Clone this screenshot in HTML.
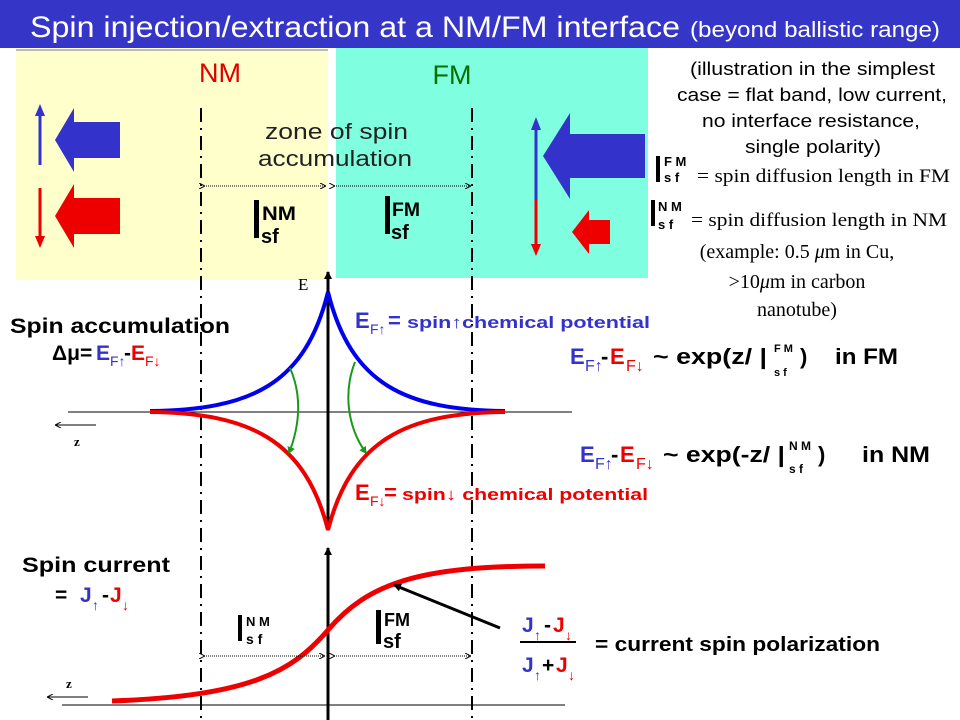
<!DOCTYPE html>
<html><head><meta charset="utf-8"><style>
body{margin:0;width:960px;height:720px;overflow:hidden;background:#fff}
svg{display:block}
.s{font-family:"Liberation Sans",sans-serif}
.r{font-family:"Liberation Serif",serif}
.b{font-family:"Liberation Sans",sans-serif;font-weight:bold}
</style></head><body>
<svg width="960" height="720" viewBox="0 0 960 720" xmlns="http://www.w3.org/2000/svg">
<defs>
<marker id="ah" markerWidth="8" markerHeight="8" refX="7" refY="4" orient="auto" markerUnits="userSpaceOnUse"><path d="M0,0 L8,4 L0,8 z" fill="#000"/></marker>
<marker id="sm" markerWidth="6" markerHeight="6" refX="5" refY="3" orient="auto" markerUnits="userSpaceOnUse"><path d="M0,0 L6,3 L0,6" fill="none" stroke="#000" stroke-width="1"/></marker>
<marker id="gh" markerWidth="8" markerHeight="8" refX="6" refY="4" orient="auto" markerUnits="userSpaceOnUse"><path d="M0,0 L7,4 L0,8 z" fill="#1a9a1a"/></marker>
</defs>
<rect x="0" y="0" width="960" height="48" fill="#3535c8"/>
<text x="30" y="37" class="s" font-size="30" fill="#fff" textLength="650" lengthAdjust="spacingAndGlyphs">Spin injection/extraction at a NM/FM interface</text>
<text x="690" y="37" class="s" font-size="22" fill="#fff" textLength="250" lengthAdjust="spacingAndGlyphs">(beyond ballistic range)</text>
<rect x="16" y="50" width="312" height="230" fill="#ffffcc"/>
<line x1="16" y1="50" x2="328" y2="50" stroke="#bbb" stroke-width="2"/>
<rect x="336" y="48" width="312" height="230" fill="#80ffe0"/>
<text x="220" y="82" text-anchor="middle" class="s" font-size="27" fill="#e00000">NM</text>
<text x="452" y="84" text-anchor="middle" class="s" font-size="27" fill="#007000">FM</text>
<line x1="40" y1="165" x2="40" y2="112" stroke="#3333cc" stroke-width="3"/><path d="M35,116 L40,104 L45,116z" fill="#3333cc"/>
<path d="M120,122 L74,122 L74,108 L55,140 L74,172 L74,158 L120,158z" fill="#3333cc"/>
<line x1="40" y1="188" x2="40" y2="240" stroke="#e00" stroke-width="3"/><path d="M35,236 L40,248 L45,236z" fill="#e00"/>
<path d="M120,198 L74,198 L74,184 L55,216 L74,248 L74,234 L120,234z" fill="#e00"/>
<line x1="536" y1="200" x2="536" y2="125" stroke="#3333cc" stroke-width="3"/><path d="M531,130 L536,117 L541,130z" fill="#3333cc"/>
<path d="M645,134 L570,134 L570,113 L543,156 L570,199 L570,178 L645,178z" fill="#3333cc"/>
<line x1="536" y1="200" x2="536" y2="250" stroke="#e00" stroke-width="3"/><path d="M531,244 L536,256 L541,244z" fill="#e00"/>
<path d="M610,220 L589,220 L589,210 L572,232 L589,254 L589,244 L610,244z" fill="#e00"/>
<text x="265" y="139" class="s" font-size="22" fill="#222" textLength="143" lengthAdjust="spacingAndGlyphs">zone of spin</text>
<text x="258" y="166" class="s" font-size="22" fill="#222" textLength="154" lengthAdjust="spacingAndGlyphs">accumulation</text>
<line x1="201" y1="108" x2="201" y2="720" stroke="#000" stroke-width="2" stroke-dasharray="14,6,2,6"/>
<line x1="472" y1="108" x2="472" y2="720" stroke="#000" stroke-width="2" stroke-dasharray="14,6,2,6"/>
<line x1="204" y1="186" x2="325" y2="186" stroke="#000" stroke-width="1" stroke-dasharray="1,1" marker-end="url(#sm)" marker-start="url(#sm)"/>
<line x1="334" y1="186" x2="470" y2="186" stroke="#000" stroke-width="1" stroke-dasharray="1,1" marker-end="url(#sm)" marker-start="url(#sm)"/>
<rect x="254" y="200" width="5" height="38" fill="#000"/>
<text x="262" y="220" class="b" font-size="19" textLength="34" lengthAdjust="spacingAndGlyphs">NM</text>
<text x="261" y="243" class="b" font-size="20">sf</text>
<rect x="385" y="196" width="5" height="38" fill="#000"/>
<text x="392" y="216" class="b" font-size="19" textLength="28" lengthAdjust="spacingAndGlyphs">FM</text>
<text x="391" y="239" class="b" font-size="20">sf</text>
<g class="s" font-size="18" fill="#000">
<text x="690" y="75" textLength="245" lengthAdjust="spacingAndGlyphs">(illustration in the simplest</text>
<text x="677" y="101" textLength="270" lengthAdjust="spacingAndGlyphs">case = flat band, low current,</text>
<text x="702" y="127" textLength="218" lengthAdjust="spacingAndGlyphs">no interface resistance,</text>
<text x="745" y="153" textLength="136" lengthAdjust="spacingAndGlyphs">single polarity)</text>
</g>
<rect x="656" y="156" width="4" height="26" fill="#000"/>
<text x="664" y="166" class="b" font-size="13">F M</text><text x="664" y="182" class="b" font-size="13">s f</text>
<text x="697" y="182" class="r" font-size="19" textLength="253" lengthAdjust="spacingAndGlyphs">= spin diffusion length in FM</text>
<rect x="651" y="200" width="4" height="26" fill="#000"/>
<text x="658" y="211" class="b" font-size="13">N M</text><text x="658" y="229" class="b" font-size="13">s f</text>
<text x="691" y="226" class="r" font-size="19" textLength="256" lengthAdjust="spacingAndGlyphs">= spin diffusion length in NM</text>
<g class="r" font-size="20" text-anchor="middle"><text x="797" y="258">(example: 0.5 <tspan font-style="italic">μ</tspan>m in Cu,</text><text x="797" y="288">&gt;10<tspan font-style="italic">μ</tspan>m in carbon</text><text x="797" y="316">nanotube)</text></g>
<line x1="328" y1="530" x2="328" y2="272" stroke="#000" stroke-width="3" marker-end="url(#ah)"/>
<text x="298" y="290" class="r" font-size="17">E</text>
<line x1="68" y1="412" x2="572" y2="412" stroke="#000" stroke-width="1"/>
<line x1="96" y1="425" x2="56" y2="425" stroke="#000" stroke-width="1" marker-end="url(#sm)"/>
<text x="74" y="446" class="r" font-size="13" font-weight="bold">z</text>
<path d="M150,411 C250,410 305,385 328,292 C351,385 406,410 505,411" fill="none" stroke="#0000ee" stroke-width="4"/>
<path d="M150,412 C250,413 305,440 328,530 C351,440 406,413 505,412" fill="none" stroke="#ee0000" stroke-width="4"/>
<path d="M290,368 C302,395 300,425 289,453" fill="none" stroke="#1a9a1a" stroke-width="2" marker-end="url(#gh)"/>
<path d="M355,362 C344,390 346,425 366,453" fill="none" stroke="#1a9a1a" stroke-width="2" marker-end="url(#gh)"/>
<text x="10" y="333" class="b" font-size="21" textLength="220" lengthAdjust="spacingAndGlyphs">Spin accumulation</text>
<text x="52" y="360" class="b" font-size="21">Δμ=</text>
<text x="96" y="360" class="b" font-size="21" fill="#3333cc">E</text><text x="110" y="366" class="s" font-size="14" fill="#3333cc">F↑</text>
<text x="124" y="360" class="b" font-size="21">-</text>
<text x="131" y="360" class="b" font-size="21" fill="#e00">E</text><text x="145" y="366" class="s" font-size="14" fill="#e00">F↓</text>
<text x="355" y="328" class="b" font-size="22" fill="#3333cc">E</text><text x="370" y="334" class="s" font-size="14" fill="#3333cc">F↑</text>
<text x="388" y="328" class="b" font-size="22" fill="#3333cc">=</text>
<text x="407" y="328" class="b" font-size="17" fill="#3333cc" textLength="243" lengthAdjust="spacingAndGlyphs">spin↑chemical potential</text>
<text x="355" y="500" class="b" font-size="22" fill="#e00">E</text><text x="370" y="506" class="s" font-size="14" fill="#e00">F↓</text>
<text x="384" y="500" class="b" font-size="22" fill="#e00">=</text>
<text x="402" y="500" class="b" font-size="17" fill="#e00" textLength="246" lengthAdjust="spacingAndGlyphs">spin↓ chemical potential</text>
<text x="570" y="364" class="b" font-size="22" fill="#3333cc">E</text><text x="585" y="371" class="s" font-size="16" fill="#3333cc">F↑</text>
<text x="601" y="364" class="b" font-size="22">-</text>
<text x="610" y="364" class="b" font-size="22" fill="#e00">E</text><text x="626" y="371" class="s" font-size="16" fill="#e00">F↓</text>
<text x="653" y="364" class="b" font-size="22" textLength="114" lengthAdjust="spacingAndGlyphs">~ exp(z/ |</text>
<text x="774" y="352" class="b" font-size="11">F M</text><text x="774" y="376" class="b" font-size="11">s f</text>
<text x="800" y="364" class="b" font-size="22">)</text>
<text x="835" y="364" class="b" font-size="22" textLength="63" lengthAdjust="spacingAndGlyphs">in FM</text>
<text x="580" y="462" class="b" font-size="22" fill="#3333cc">E</text><text x="595" y="469" class="s" font-size="16" fill="#3333cc">F↑</text>
<text x="611" y="462" class="b" font-size="22">-</text>
<text x="620" y="462" class="b" font-size="22" fill="#e00">E</text><text x="636" y="469" class="s" font-size="16" fill="#e00">F↓</text>
<text x="663" y="462" class="b" font-size="22" textLength="122" lengthAdjust="spacingAndGlyphs">~ exp(-z/ |</text>
<text x="789" y="450" class="b" font-size="12">N M</text><text x="789" y="473" class="b" font-size="12">s f</text>
<text x="818" y="462" class="b" font-size="22">)</text>
<text x="862" y="462" class="b" font-size="22" textLength="68" lengthAdjust="spacingAndGlyphs">in NM</text>
<line x1="328" y1="720" x2="328" y2="548" stroke="#000" stroke-width="3" marker-end="url(#ah)"/>
<line x1="62" y1="705" x2="565" y2="705" stroke="#000" stroke-width="1"/>
<line x1="88" y1="697" x2="48" y2="697" stroke="#000" stroke-width="1" marker-end="url(#sm)"/>
<text x="66" y="688" class="r" font-size="13" font-weight="bold">z</text>
<path d="M112,701 C250,696 292,672 328,630 C368,583 420,566 545,566" fill="none" stroke="#ee0000" stroke-width="5"/>
<line x1="500" y1="628" x2="394" y2="585" stroke="#000" stroke-width="3" marker-end="url(#ah)"/>
<line x1="204" y1="656" x2="324" y2="656" stroke="#000" stroke-width="1" stroke-dasharray="1,1" marker-end="url(#sm)" marker-start="url(#sm)"/>
<line x1="334" y1="656" x2="470" y2="656" stroke="#000" stroke-width="1" stroke-dasharray="1,1" marker-end="url(#sm)" marker-start="url(#sm)"/>
<rect x="238" y="615" width="4" height="26" fill="#000"/>
<text x="246" y="626" class="b" font-size="13">N M</text><text x="246" y="644" class="b" font-size="14">s f</text>
<rect x="376" y="610" width="5" height="34" fill="#000"/>
<text x="384" y="626" class="b" font-size="18" textLength="26" lengthAdjust="spacingAndGlyphs">FM</text><text x="383" y="648" class="b" font-size="20">sf</text>
<text x="22" y="572" class="b" font-size="21" textLength="148" lengthAdjust="spacingAndGlyphs">Spin current</text>
<text x="55" y="602" class="b" font-size="21">=</text>
<text x="80" y="602" class="b" font-size="21" fill="#3333cc">J</text><text x="92" y="610" class="s" font-size="14" fill="#3333cc">↑</text>
<text x="102" y="602" class="b" font-size="21">-</text>
<text x="110" y="602" class="b" font-size="21" fill="#e00">J</text><text x="122" y="610" class="s" font-size="14" fill="#e00">↓</text>
<text x="522" y="632" class="b" font-size="21" fill="#3333cc">J</text><text x="534" y="640" class="s" font-size="14" fill="#3333cc">↑</text>
<text x="544" y="632" class="b" font-size="21">-</text>
<text x="553" y="632" class="b" font-size="21" fill="#e00">J</text><text x="565" y="640" class="s" font-size="14" fill="#e00">↓</text>
<line x1="520" y1="642" x2="576" y2="642" stroke="#000" stroke-width="2"/>
<text x="522" y="672" class="b" font-size="21" fill="#3333cc">J</text><text x="534" y="680" class="s" font-size="14" fill="#3333cc">↑</text>
<text x="542" y="672" class="b" font-size="21">+</text>
<text x="556" y="672" class="b" font-size="21" fill="#e00">J</text><text x="568" y="680" class="s" font-size="14" fill="#e00">↓</text>
<text x="595" y="651" class="b" font-size="20" textLength="285" lengthAdjust="spacingAndGlyphs">= current spin polarization</text>
</svg>
</body></html>
